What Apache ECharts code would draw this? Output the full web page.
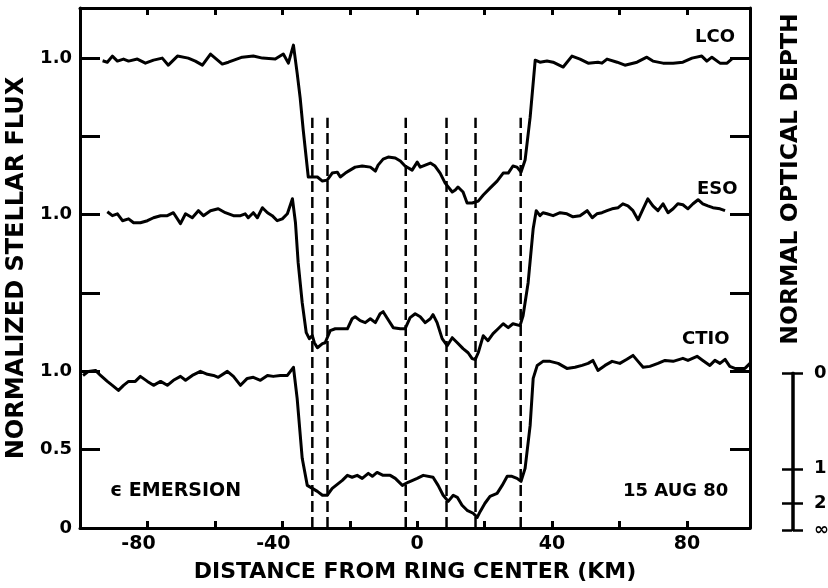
<!DOCTYPE html>
<html><head><meta charset="utf-8">
<script src="https://cdn.jsdelivr.net/npm/echarts@6/dist/echarts.min.js"></script>
<style>html,body{margin:0;padding:0;background:#fff}#c{width:828px;height:588px}</style>
</head><body><div id="c"></div>
<script>
// ---- data ----
const xTickLabels = [-80, -40, 0, 40, 80];
const lcoKm = [-93.3,-91.9,-90.4,-88.9,-87.1,-85.6,-83.0,-80.6,-78.2,-75.6,-73.8,-71.1,-67.9,-65.8,-63.7,-61.3,-57.8,-56.0,-51.9,-48.6,-45.9,-42.1,-39.7,-38.2,-36.7,-35.6,-34.7,-33.8,-32.3,-31.1,-29.6,-28.1,-26.7,-25.2,-23.7,-22.8,-21.3,-19.9,-18.4,-16.3,-13.9,-12.4,-11.6,-10.1,-8.6,-6.5,-5.0,-3.6,-1.5,0,0.9,2.4,3.9,5.3,6.8,8.3,10.4,11.3,12.1,13.6,14.8,16.3,18.1,19.6,21.6,23.7,25.5,27.0,28.4,29.6,30.8,32.0,33.5,35.0,36.4,38.5,40.3,43.3,45.9,48.3,50.7,53.6,54.8,56.3,59.3,61.6,65.2,68.1,69.9,72.9,75.9,78.8,81.5,84.4,85.9,87.4,89.8,91.9,93.6];
const lcoFlux = [0.983,0.974,1.013,0.981,0.994,0.981,0.994,0.968,0.987,1.0,0.955,1.013,1.0,0.981,0.955,1.026,0.962,0.974,1.006,1.013,1.0,0.994,1.026,0.968,1.083,0.904,0.745,0.541,0.241,0.241,0.241,0.215,0.221,0.266,0.272,0.241,0.266,0.285,0.304,0.311,0.304,0.279,0.317,0.355,0.368,0.362,0.343,0.311,0.285,0.336,0.304,0.317,0.330,0.311,0.266,0.202,0.145,0.158,0.177,0.145,0.075,0.075,0.087,0.126,0.170,0.215,0.266,0.266,0.311,0.304,0.272,0.349,0.623,0.987,0.974,0.981,0.974,0.943,1.013,0.994,0.968,0.974,0.968,0.994,0.974,0.955,0.974,1.006,0.981,0.968,0.968,0.974,1.0,1.013,0.981,1.006,0.968,0.968,1.0];
const esoKm = [-91.9,-90.4,-88.9,-87.4,-85.6,-84.1,-82.1,-80.0,-78.2,-76.1,-74.1,-72.3,-70.2,-68.7,-66.7,-64.9,-63.4,-61.3,-59.0,-56.9,-54.5,-52.4,-51.0,-50.1,-48.6,-47.4,-45.9,-44.4,-43.0,-41.5,-40.0,-38.5,-37.0,-36.1,-35.3,-34.1,-32.9,-32.0,-31.1,-30.5,-29.6,-28.1,-27.3,-25.8,-24.3,-22.2,-20.7,-19.3,-18.4,-16.9,-15.4,-13.9,-12.4,-11.0,-10.1,-8.6,-7.1,-5.0,-3.6,-2.1,-0.6,0.9,2.4,3.9,4.7,5.9,7.4,8.9,10.4,11.9,13.6,15.1,16.3,17.2,18.1,19.6,21.0,22.5,24.0,25.5,27.0,28.4,30.5,31.4,32.9,34.4,35.3,36.4,37.3,38.5,40.3,42.4,44.4,46.2,48.3,50.4,51.9,53.3,54.8,56.3,57.8,59.6,61.0,62.5,64.0,65.5,67.0,68.4,69.9,71.4,72.9,74.4,75.9,77.3,78.8,80.3,81.8,83.3,84.7,86.2,87.7,89.8,91.3];
const esoFlux = [1.019,0.994,1.006,0.962,0.974,0.949,0.949,0.962,0.981,0.994,0.994,1.013,0.943,1.006,0.981,1.026,0.994,1.026,1.038,1.013,0.994,0.994,1.006,0.981,1.013,0.981,1.045,1.013,0.994,0.962,0.974,1.006,1.102,0.949,0.694,0.438,0.247,0.209,0.228,0.183,0.151,0.177,0.183,0.260,0.272,0.272,0.272,0.336,0.349,0.324,0.311,0.336,0.311,0.368,0.381,0.330,0.279,0.272,0.272,0.343,0.368,0.349,0.311,0.336,0.362,0.311,0.209,0.164,0.215,0.183,0.145,0.119,0.081,0.075,0.119,0.228,0.196,0.241,0.272,0.304,0.279,0.304,0.292,0.355,0.566,0.911,1.026,0.994,1.013,1.006,0.994,1.013,1.006,0.987,0.994,1.026,0.981,1.006,1.013,1.026,1.038,1.045,1.070,1.057,1.026,0.968,1.038,1.102,1.057,1.026,1.070,1.013,1.038,1.070,1.064,1.038,1.070,1.096,1.070,1.057,1.045,1.038,1.026];
const ctioKm = [-99.1,-97.5,-95.4,-93.9,-91.9,-90.4,-88.6,-87.1,-85.6,-83.6,-82.1,-80.0,-78.2,-76.1,-74.1,-72.3,-70.2,-68.7,-66.7,-64.3,-62.2,-60.4,-59.0,-56.3,-54.5,-52.4,-50.4,-48.6,-46.5,-44.4,-42.7,-40.6,-38.5,-36.7,-35.6,-34.1,-32.6,-31.1,-29.6,-28.1,-26.7,-25.2,-23.7,-22.2,-20.7,-19.3,-17.8,-16.3,-14.5,-13.3,-11.9,-10.1,-8.0,-6.5,-4.4,-2.7,0,1.8,4.7,6.2,7.7,9.2,10.7,11.9,13.3,14.8,16.6,17.8,18.7,20.1,21.6,23.7,25.2,26.7,28.1,29.6,30.8,32.0,33.5,34.4,35.6,37.3,39.4,41.8,44.4,46.8,48.9,50.7,52.1,53.6,55.7,57.8,60.1,62.2,64.0,65.5,67.0,69.0,71.4,73.5,75.9,78.8,80.3,83.0,84.7,86.8,88.3,89.8,91.3,92.7,94.2,97.2,98.7];
const ctioFlux = [0.974,1.0,1.006,0.974,0.936,0.911,0.879,0.911,0.936,0.936,0.968,0.936,0.911,0.936,0.911,0.943,0.968,0.943,0.974,1.0,0.981,0.974,0.962,1.0,0.968,0.911,0.955,0.962,0.943,0.974,0.968,0.974,0.974,1.026,0.828,0.445,0.272,0.253,0.234,0.209,0.209,0.253,0.279,0.304,0.336,0.324,0.336,0.317,0.349,0.330,0.355,0.336,0.336,0.317,0.272,0.292,0.317,0.336,0.324,0.272,0.209,0.170,0.209,0.196,0.145,0.113,0.094,0.068,0.106,0.158,0.202,0.221,0.272,0.330,0.330,0.317,0.298,0.381,0.655,0.955,1.038,1.064,1.064,1.051,1.019,1.026,1.038,1.051,1.070,1.006,1.038,1.064,1.051,1.077,1.102,1.064,1.026,1.032,1.051,1.070,1.064,1.083,1.070,1.096,1.070,1.038,1.070,1.051,1.077,1.032,1.019,1.019,1.051];
// ring boundaries (dashed lines), km from ring center
const ringEdgesKm = [-31.1, -26.6, -3.4, 8.7, 17.3, 30.7];
const ringEdgeTop = 2.62;
// normal optical depth scale: flux level of each depth mark
const depthFlux = [1, 0.39, 0.17, 0];
const depthLabels = ['0', '1', '2', '\u221E'];

// ---- layout / style ----
const LCO_OFF = 2, ESO_OFF = 1, CTIO_OFF = 0;
const FONT = 'DejaVu Sans';
const BLACK = '#000';

function pts(km, fl, off) {
  const n = Math.min(km.length, fl.length), a = [];
  for (let i = 0; i < n; i++) a.push([km[i], +(fl[i] + off).toFixed(4)]);
  return a;
}
const near = (a, b) => Math.abs(a - b) < 1e-6;

const chart = echarts.init(document.getElementById('c'), null, {renderer: 'canvas'});

const curveStyle = {color: BLACK, width: 3, join: 'round'};
const series = [
  {name: 'LCO', data: pts(lcoKm, lcoFlux, LCO_OFF)},
  {name: 'ESO', data: pts(esoKm, esoFlux, ESO_OFF)},
  {name: 'CTIO', data: pts(ctioKm, ctioFlux, CTIO_OFF)}
].map(s => ({
  type: 'line', name: s.name, data: s.data, xAxisIndex: 0, yAxisIndex: 0,
  showSymbol: false, symbol: 'none', silent: true, animation: false,
  lineStyle: curveStyle, z: 3
}));
ringEdgesKm.forEach(k => series.push({
  type: 'line', data: [[k, 0], [k, ringEdgeTop]], xAxisIndex: 0, yAxisIndex: 0,
  showSymbol: false, symbol: 'none', silent: true, animation: false,
  lineStyle: {color: BLACK, width: 2.5, type: [11, 5]}, z: 2
}));

const axisLineStyle = {color: BLACK, width: 3};
const xCommon = {
  type: 'value', min: -100, max: 98.7, interval: 20, gridIndex: 0,
  splitLine: {show: false},
  axisLine: {show: true, onZero: false, lineStyle: axisLineStyle},
  axisTick: {show: true, inside: true, length: 7, lineStyle: {color: BLACK, width: 3}}
};
const yCommon = {
  type: 'value', min: 0, max: 3.32, interval: 0.5, gridIndex: 0,
  splitLine: {show: false},
  axisLine: {show: true, onZero: false, lineStyle: axisLineStyle},
  axisTick: {show: true, inside: true, length: 20, lineStyle: {color: BLACK, width: 3}}
};
const txt = (size) => ({fontSize: size, fontWeight: 'bold', fontFamily: FONT, color: BLACK});

const option = {
  backgroundColor: '#fff',
  animation: false,
  grid: [
    {left: 80, right: 78, top: 8, bottom: 60, containLabel: false, outerBoundsMode: 'none'},
    {left: 792, width: 1, top: 373, bottom: 58, containLabel: false, outerBoundsMode: 'none'}
  ],
  xAxis: [
    Object.assign({}, xCommon, {
      position: 'bottom',
      axisLabel: Object.assign(txt(19), {
        show: true, margin: 7,
        formatter: v => {
          for (const t of xTickLabels) if (near(v, t)) return t < 0 ? '{neg|-' + Math.abs(t) + '}' : String(t);
          return '';
        },
        rich: {neg: Object.assign(txt(19), {padding: [0, 18, 0, 0]})}
      }),
      name: 'DISTANCE FROM RING CENTER (KM)', nameLocation: 'middle', nameGap: 33,
      nameTextStyle: txt(22)
    }),
    Object.assign({}, xCommon, {position: 'top', axisLabel: {show: false}}),
    {type: 'value', gridIndex: 1, min: 0, max: 1, show: false}
  ],
  yAxis: [
    Object.assign({}, yCommon, {
      position: 'left',
      axisLabel: Object.assign(txt(18), {
        show: true, margin: 8,
        formatter: v => near(v, 0) ? '0' : near(v, 0.5) ? '0.5' : (near(v, 1) || near(v, 2) || near(v, 3)) ? '1.0' : ''
      }),
      name: 'NORMALIZED STELLAR FLUX', nameLocation: 'middle', nameGap: 46, nameRotate: 90,
      nameTextStyle: txt(24)
    }),
    Object.assign({}, yCommon, {position: 'right', axisLabel: {show: false}}),
    {
      type: 'value', gridIndex: 1, position: 'left', min: 0, max: 1,
      splitLine: {show: false},
      axisLine: {show: true, onZero: false, lineStyle: {color: BLACK, width: 2.5}},
      axisTick: {show: true, inside: false, length: 10, customValues: depthFlux, lineStyle: {color: BLACK, width: 2.5}},
      axisLabel: {show: false}
    },
    {
      type: 'value', gridIndex: 1, position: 'right', min: 0, max: 1,
      splitLine: {show: false},
      axisLine: {show: true, onZero: false, lineStyle: {color: BLACK, width: 2.5}},
      axisTick: {show: true, inside: false, length: 10, customValues: depthFlux, lineStyle: {color: BLACK, width: 2.5}},
      axisLabel: Object.assign(txt(18), {
        show: true, margin: 21, customValues: depthFlux,
        formatter: v => { const i = depthFlux.findIndex(f => near(f, v)); return i >= 0 ? depthLabels[i] : ''; }
      })
    }
  ],
  series: series,
  graphic: [
    {type: 'text', x: 695, y: 37, style: {text: 'LCO', fill: BLACK, fontSize: 18, fontWeight: 'bold', fontFamily: FONT, align: 'left', verticalAlign: 'middle'}},
    {type: 'text', x: 697, y: 189, style: {text: 'ESO', fill: BLACK, fontSize: 18, fontWeight: 'bold', fontFamily: FONT, align: 'left', verticalAlign: 'middle'}},
    {type: 'text', x: 682, y: 339, style: {text: 'CTIO', fill: BLACK, fontSize: 18, fontWeight: 'bold', fontFamily: FONT, align: 'left', verticalAlign: 'middle'}},
    {type: 'text', x: 623, y: 491, style: {text: '15 AUG 80', fill: BLACK, fontSize: 18, fontWeight: 'bold', fontFamily: FONT, align: 'left', verticalAlign: 'middle'}},
    {type: 'text', x: 110, y: 491, style: {text: '\u03F5 EMERSION', fill: BLACK, fontSize: 19, fontWeight: 'bold', fontFamily: FONT, align: 'left', verticalAlign: 'middle'}},
    {type: 'text', x: 791, y: 179, rotation: Math.PI / 2,
     style: {text: 'NORMAL OPTICAL DEPTH', fill: BLACK, fontSize: 23.5, fontWeight: 'bold', fontFamily: FONT, align: 'center', verticalAlign: 'middle'}}
  ]
};
chart.setOption(option);
</script>
</body></html>
